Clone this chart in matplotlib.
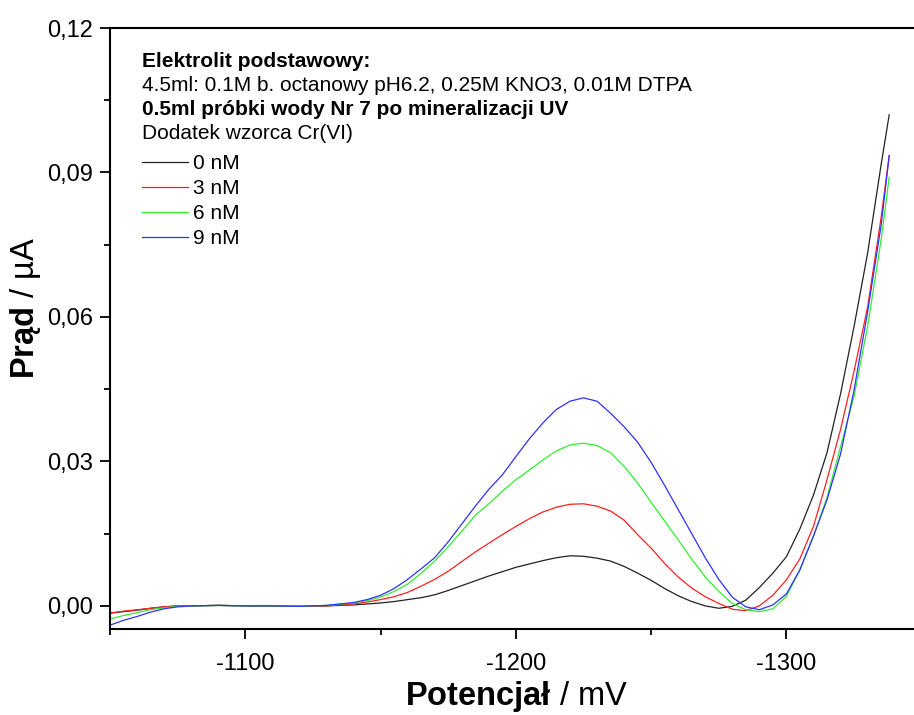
import matplotlib
matplotlib.use("Agg")
import matplotlib.pyplot as plt
from matplotlib.ticker import MultipleLocator, FuncFormatter

plt.rcParams['font.family'] = ['Liberation Sans', 'DejaVu Sans']
plt.rcParams['mathtext.fontset'] = 'custom'
plt.rcParams['mathtext.rm'] = 'Liberation Sans'
plt.rcParams['mathtext.bf'] = 'Liberation Sans:bold'
plt.rcParams['axes.unicode_minus'] = False

# potencjał [mV]
potential = [-1050, -1055, -1060, -1065, -1070, -1075, -1080, -1090, -1100, -1110,
             -1120, -1130, -1140, -1145, -1150, -1155, -1160, -1165, -1170, -1175,
             -1180, -1185, -1190, -1195, -1200, -1205, -1210, -1215, -1220, -1225,
             -1230, -1235, -1240, -1245, -1250, -1255, -1260, -1265, -1270, -1275,
             -1280, -1285, -1290, -1295, -1300, -1305, -1310, -1315, -1320, -1325,
             -1330, -1335, -1338]

# prąd [uA] dla kolejnych dodatków Cr(VI)
i_0nM = [-0.0015, -0.0012, -0.0009, -0.0005, -0.0002, 0.0000, 0.0000, 0.0001, 0.0000, 0.0000,
         -0.0001, 0.0000, 0.0002, 0.0004, 0.0006, 0.0009, 0.0013, 0.0017, 0.0023, 0.0032,
         0.0042, 0.0052, 0.0062, 0.0071, 0.0080, 0.0087, 0.0094, 0.0100, 0.0104, 0.0103,
         0.0099, 0.0093, 0.0082, 0.0068, 0.0053, 0.0036, 0.0021, 0.0009, 0.0000, -0.0005,
         -0.0001, 0.0012, 0.0038, 0.0068, 0.0102, 0.0160, 0.0230, 0.0318, 0.0440, 0.0580,
         0.0732, 0.0916, 0.1020]
i_3nM = [-0.0015, -0.0011, -0.0008, -0.0005, -0.0002, 0.0000, 0.0000, 0.0001, 0.0000, 0.0000,
         -0.0001, 0.0000, 0.0004, 0.0008, 0.0013, 0.0019, 0.0028, 0.0041, 0.0055, 0.0072,
         0.0092, 0.0112, 0.0130, 0.0148, 0.0165, 0.0181, 0.0195, 0.0205, 0.0211, 0.0212,
         0.0207, 0.0197, 0.0178, 0.0148, 0.0120, 0.0088, 0.0060, 0.0037, 0.0019, 0.0005,
         -0.0007, -0.0010, 0.0000, 0.0022, 0.0054, 0.0098, 0.0165, 0.0262, 0.0366, 0.0487,
         0.0620, 0.0806, 0.0935]
i_6nM = [-0.0027, -0.0020, -0.0014, -0.0008, -0.0004, -0.0001, 0.0000, 0.0001, 0.0000, 0.0000,
         -0.0001, 0.0001, 0.0006, 0.0011, 0.0018, 0.0030, 0.0045, 0.0068, 0.0093, 0.0123,
         0.0155, 0.0188, 0.0212, 0.0238, 0.0262, 0.0282, 0.0303, 0.0322, 0.0334, 0.0338,
         0.0333, 0.0318, 0.0290, 0.0255, 0.0215, 0.0176, 0.0137, 0.0097, 0.0060, 0.0030,
         0.0005, -0.0008, -0.0012, -0.0006, 0.0020, 0.0075, 0.0145, 0.0225, 0.0330, 0.0435,
         0.0580, 0.0760, 0.0890]
i_9nM = [-0.0040, -0.0030, -0.0022, -0.0013, -0.0006, -0.0002, 0.0000, 0.0001, 0.0000, 0.0000,
         -0.0001, 0.0001, 0.0007, 0.0013, 0.0022, 0.0036, 0.0055, 0.0077, 0.0100, 0.0133,
         0.0170, 0.0207, 0.0242, 0.0272, 0.0310, 0.0347, 0.0380, 0.0408, 0.0425, 0.0432,
         0.0425, 0.0400, 0.0372, 0.0340, 0.0298, 0.0250, 0.0200, 0.0150, 0.0100, 0.0055,
         0.0018, -0.0002, -0.0008, 0.0002, 0.0025, 0.0075, 0.0145, 0.0220, 0.0315, 0.0448,
         0.0610, 0.0790, 0.0935]

series = [i_0nM, i_3nM, i_6nM, i_9nM]
labels = ['0 nM', '3 nM', '6 nM', '9 nM']
colors = ['#222222', '#ff2020', '#30ee30', '#3030ff']

fig = plt.figure(figsize=(9.14, 7.15), dpi=100)
ax = fig.add_axes([0.1204, 0.1203, 0.888, 0.8405])

for y, lab, c in zip(series, labels, colors):
    ax.plot(potential, y, color=c, lw=0.9, label=lab)

ax.set_xlim(-1050, -1350)
ax.set_ylim(-0.0048, 0.12)

ax.xaxis.set_major_locator(MultipleLocator(100))
ax.xaxis.set_minor_locator(MultipleLocator(50))
ax.yaxis.set_major_locator(MultipleLocator(0.03))
ax.yaxis.set_minor_locator(MultipleLocator(0.015))
ax.yaxis.set_major_formatter(FuncFormatter(lambda v, p: f"{v:.2f}".replace('.', ',')))
ax.xaxis.set_major_formatter(FuncFormatter(lambda v, p: f"{v:.0f}"))

for s in ax.spines.values():
    s.set_linewidth(1.5)
ax.tick_params(which='major', direction='out', length=7.5, width=1.3, labelsize=17)
ax.tick_params(which='minor', direction='out', length=4, width=1.3)
ax.tick_params(axis='x', which='major', pad=10)
ax.tick_params(axis='y', which='major', pad=5)

ax.set_xlabel(r'$\mathbf{Potencjał}$ / mV', fontsize=23.5)
ax.set_ylabel(r'$\mathbf{Prąd}$ / µA', fontsize=23.5)
ax.xaxis.set_label_coords(0.501, -0.083)
ax.yaxis.set_label_coords(-0.083, 0.534)

# opis warunków pomiaru
tx = 0.0394
ax.text(tx, 0.944, 'Elektrolit podstawowy:', transform=ax.transAxes,
        fontsize=15, fontweight='bold', va='center')
ax.text(tx, 0.904, '4.5ml: 0.1M b. octanowy pH6.2, 0.25M KNO3, 0.01M DTPA',
        transform=ax.transAxes, fontsize=15, va='center')
ax.text(tx, 0.864, '0.5ml próbki wody Nr 7 po mineralizacji UV', transform=ax.transAxes,
        fontsize=15, fontweight='bold', va='center')
ax.text(tx, 0.824, 'Dodatek wzorca Cr(VI)', transform=ax.transAxes,
        fontsize=15, va='center')

ax.legend(loc='upper left', bbox_to_anchor=(tx, 0.790), frameon=False, fontsize=15,
          handlelength=2.2, handletextpad=0.25, labelspacing=0.29,
          borderpad=0, borderaxespad=0)

fig.savefig('out.png', dpi=100)
